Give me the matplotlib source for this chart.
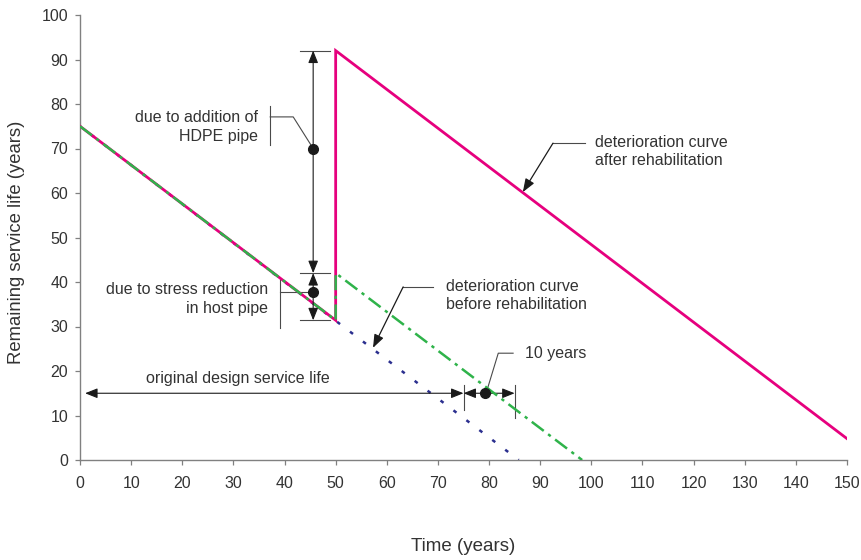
import matplotlib
matplotlib.use("Agg")
import matplotlib.pyplot as plt

plt.rcParams['font.family'] = ['Liberation Sans', 'DejaVu Sans']

# Remaining service life curves (years)
time_original = [0, 85.8]
life_original = [75, 0]

time_rehab = [0, 50, 50, 150]
life_rehab = [75, 31.4, 92, 4.8]

time_liner = [0, 50, 50, 98.2]
life_liner = [75, 31.4, 42, 0]

x_ticks = list(range(0, 151, 10))
y_ticks = list(range(0, 101, 10))

# Dimension annotations
rehab_year = 50
bracket_x = 45.6
gain_levels = [92, 42, 31.4]          # top of rehab jump, top of stress gain, host-pipe life
design_life = 75
extension = 10
span_y = 15

TEXT = '#333333'
LEAD = '#4a4a4a'
MAGENTA = '#e6007e'
GREEN = '#2fb34a'
BLUE = '#2b2f8f'

fig = plt.figure(figsize=(8.62, 5.6), dpi=100)
ax = fig.add_axes([80 / 862, 100 / 560, 767 / 862, 445 / 560])

ax.plot(time_original, life_original, color=BLUE, lw=1.8,
        linestyle=(0.8, (1.5, 5.0)), zorder=2)
ax.plot(time_rehab, life_rehab, color=MAGENTA, lw=2.0, zorder=3,
        solid_joinstyle='miter')
ax.plot(time_liner, life_liner, color=GREEN, lw=1.8,
        linestyle=(0, (6.0, 2.2, 1.3, 2.2)), zorder=4)

ax.set_xlim(0, 150)
ax.set_ylim(0, 100)
ax.set_xticks(x_ticks)
ax.set_yticks(y_ticks)
for side in ('top', 'right'):
    ax.spines[side].set_visible(False)
for side in ('left', 'bottom'):
    ax.spines[side].set_color('#808080')
    ax.spines[side].set_linewidth(1.0)
ax.tick_params(axis='both', direction='out', length=3.6, width=0.9,
               color='#808080', labelcolor=TEXT, labelsize=11.5)
ax.tick_params(axis='x', pad=8)
ax.tick_params(axis='y', pad=5)

ax.set_xlabel('Time (years)', fontsize=13.5, color=TEXT)
ax.set_ylabel('Remaining service life (years)', fontsize=13.3, color=TEXT)
ax.xaxis.set_label_coords(0.5, -0.175)
ax.yaxis.set_label_coords(-0.072, 0.49)

arrow_both = dict(arrowstyle='<|-|>,head_length=0.75,head_width=0.3',
                  color='#1a1a1a', lw=0.8, shrinkA=0, shrinkB=0)

# Vertical dimension bars for the life gains at rehabilitation
for lvl in gain_levels:
    ax.plot([43.0, 48.9], [lvl, lvl], color=LEAD, lw=0.8, zorder=5)
ax.annotate('', xy=(bracket_x, gain_levels[0]), xytext=(bracket_x, gain_levels[1]),
            arrowprops=arrow_both, zorder=5)
ax.annotate('', xy=(bracket_x, gain_levels[2]), xytext=(bracket_x, gain_levels[1]),
            arrowprops=arrow_both, zorder=5)
dot_hdpe = (bracket_x, 70)
dot_stress = (bracket_x, 37.7)
ax.plot(*dot_hdpe, 'o', color='#1a1a1a', ms=7, zorder=6)
ax.plot(*dot_stress, 'o', color='#1a1a1a', ms=7, zorder=6)

# Label bracket: HDPE pipe contribution
ax.plot([37.2, 37.2], [79.6, 70.8], color=LEAD, lw=0.8)
ax.plot([37.2, 41.7, dot_hdpe[0]], [77.1, 77.1, dot_hdpe[1]], color=LEAD, lw=0.8)
ax.text(34.8, 74.9, 'due to addition of\nHDPE pipe', ha='right', va='center',
        multialignment='right', fontsize=11.5, color=TEXT, linespacing=1.35)

# Label bracket: stress reduction in host pipe
ax.plot([39.1, 39.1], [40.4, 29.7], color=LEAD, lw=0.8)
ax.plot([39.1, dot_stress[0]], [dot_stress[1], dot_stress[1]], color=LEAD, lw=0.8)
ax.text(36.8, 36.2, 'due to stress reduction\nin host pipe', ha='right', va='center',
        multialignment='right', fontsize=11.5, color=TEXT, linespacing=1.3)

# Curve callouts
arrow_pointer = dict(arrowstyle='-|>,head_length=0.8,head_width=0.3',
                     color='#1a1a1a', lw=0.9, shrinkA=0, shrinkB=0)
ax.plot([69.0, 63.2], [38.9, 38.9], color=LEAD, lw=0.8)
ax.annotate('', xy=(57.3, 25.2), xytext=(63.2, 38.9), arrowprops=arrow_pointer)
ax.text(71.6, 36.9, 'deterioration curve\nbefore rehabilitation', ha='left',
        va='center', fontsize=11.5, color=TEXT, linespacing=1.25)

ax.plot([98.8, 92.5], [71.2, 71.2], color=LEAD, lw=0.8)
ax.annotate('', xy=(86.6, 60.2), xytext=(92.5, 71.2), arrowprops=arrow_pointer)
ax.text(100.7, 69.3, 'deterioration curve\nafter rehabilitation', ha='left',
        va='center', fontsize=11.5, color=TEXT, linespacing=1.25)

# Horizontal dimension: design life and extension
ext_end = design_life + extension
ax.annotate('', xy=(1.0, span_y), xytext=(design_life, span_y), arrowprops=arrow_both)
ax.annotate('', xy=(design_life, span_y), xytext=(ext_end, span_y), arrowprops=arrow_both)
ax.plot([design_life, design_life], [16.9, 11.2], color=LEAD, lw=0.8)
ax.plot([ext_end, ext_end], [16.9, 9.4], color=LEAD, lw=0.8)
ax.text(30.9, 18.4, 'original design service life', ha='center', va='center',
        fontsize=11.5, color=TEXT)

dot_ext = (79.2, span_y)
ax.plot(*dot_ext, 'o', color='#1a1a1a', ms=7, zorder=6)
ax.plot([84.7, 81.8, 79.6], [24.0, 24.0, 15.7], color=LEAD, lw=0.8)
ax.text(87.0, 24.0, '10 years', ha='left', va='center', fontsize=11.5, color=TEXT)

fig.savefig('out.png', dpi=100)
